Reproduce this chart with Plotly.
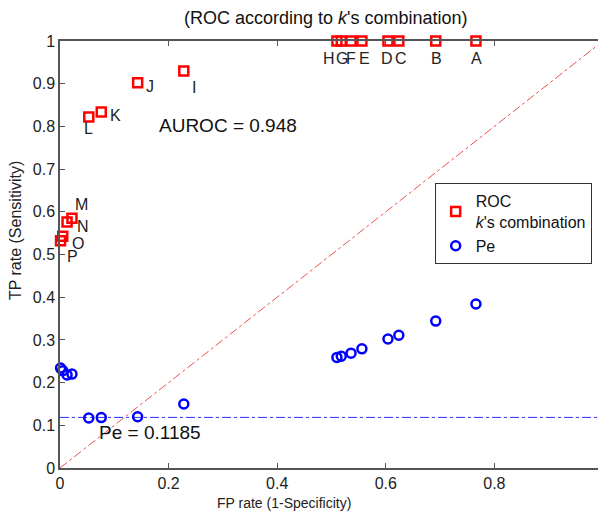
import plotly.graph_objects as go

labels = ["A", "B", "C", "D", "E", "F", "G", "H", "I", "J", "K", "L", "M", "N", "O", "P"]
fp_rate = [0.766, 0.692, 0.624, 0.604, 0.556, 0.536, 0.518, 0.510, 0.228, 0.143, 0.076, 0.053, 0.022, 0.013, 0.005, 0.001]
tp_roc = [1.0, 1.0, 1.0, 1.0, 1.0, 1.0, 1.0, 1.0, 0.930, 0.902, 0.834, 0.822, 0.585, 0.576, 0.543, 0.532]
tp_pe = [0.384, 0.344, 0.311, 0.302, 0.279, 0.269, 0.262, 0.259, 0.150, 0.120, 0.118, 0.117, 0.220, 0.218, 0.228, 0.234]
pe_value = 0.1185
auroc = 0.948
x_tickvals = [0, 0.2, 0.4, 0.6, 0.8, 1]
x_ticktext = ["0", "0.2", "0.4", "0.6", "0.8", "1"]
y_tickvals = [0, 0.1, 0.2, 0.3, 0.4, 0.5, 0.6, 0.7, 0.8, 0.9, 1]
y_ticktext = ["0", "0.1", "0.2", "0.3", "0.4", "0.5", "0.6", "0.7", "0.8", "0.9", "1"]

# label offsets (in pixels) relative to marker
label_offsets = {
    "A": (1, -17), "B": (1, -17), "C": (2, -17), "D": (-1, -17),
    "E": (3, -17), "F": (0, -17), "G": (1, -17), "H": (-8, -17),
    "I": (10, -17), "J": (12, -4), "K": (14, -4), "L": (0, -11),
    "M": (10, 14), "N": (16, -4), "O": (15, -7), "P": (12, -16),
}

FONT = "Liberation Sans, Arial, sans-serif"
fig = go.Figure()

fig.add_trace(go.Scatter(x=[0, 1], y=[0, 1], mode="lines",
                         line=dict(color="rgba(235,60,60,0.9)", width=1, dash="dashdot"),
                         showlegend=False, hoverinfo="skip"))
fig.add_trace(go.Scatter(x=[0, 1], y=[pe_value, pe_value], mode="lines",
                         line=dict(color="#2a2aff", width=1, dash="dashdot"),
                         showlegend=False, hoverinfo="skip"))

fig.add_trace(go.Scatter(x=fp_rate, y=tp_roc, mode="markers",
                         marker=dict(symbol="square-open", size=9, color="#ff0000",
                                     line=dict(width=2.5, color="#ff0000")),
                         name="ROC<br><i>k</i>'s combination", cliponaxis=False))
fig.add_trace(go.Scatter(x=fp_rate, y=tp_pe, mode="markers",
                         marker=dict(symbol="circle-open", size=9, color="#0000ff",
                                     line=dict(width=2.5, color="#0000ff")),
                         name="Pe", cliponaxis=False))

for lab, x, y in zip(labels, fp_rate, tp_roc):
    dx, dy = label_offsets[lab]
    fig.add_annotation(x=x, y=y, text=lab, showarrow=False, xshift=dx, yshift=dy,
                       font=dict(size=16, color="#222", family=FONT))

fig.add_annotation(x=0.178, y=0.803, text=f"AUROC = {auroc}", showarrow=False,
                   xanchor="left", font=dict(size=19, color="#111", family=FONT))
fig.add_annotation(x=0.068, y=0.084, text=f"Pe = {pe_value}", showarrow=False,
                   xanchor="left", font=dict(size=19, color="#111", family=FONT))

# the last x tick label sits on the page edge (plotly hides it), so draw it as text
fig.add_annotation(x=x_tickvals[-1], xref="x", y=0, yref="paper", text=x_ticktext[-1],
                   showarrow=False, xanchor="center", yanchor="top", yshift=-2,
                   font=dict(size=16, color="#222", family=FONT))

# title and axis titles placed as paper annotations (they are off-centre in the reference)
fig.add_annotation(xref="paper", yref="paper", x=0.49, y=1.054, showarrow=False,
                   xanchor="center", yanchor="middle",
                   text="(ROC according to <i>k</i>'s combination)",
                   font=dict(size=18, color="#111", family=FONT))
fig.add_annotation(xref="paper", yref="paper", x=0.4125, y=-0.082, showarrow=False,
                   xanchor="center", yanchor="middle",
                   text="FP rate (1-Specificity)",
                   font=dict(size=14, color="#222", family=FONT))
fig.add_annotation(xref="paper", yref="paper", x=-0.083, y=0.557, showarrow=False,
                   xanchor="center", yanchor="middle",
                   text="TP rate (Sensitivity)", textangle=-90,
                   font=dict(size=16, color="#222", family=FONT))

# page body has an 8px default margin: margins chosen so the plot area lands where the reference has it
fig.update_layout(
    width=606, height=505,
    margin=dict(l=52, r=11, t=33, b=45, autoexpand=False),
    paper_bgcolor="white", plot_bgcolor="white",
    font=dict(family=FONT, size=14, color="#222"),
    legend=dict(x=0.69, y=0.667, xanchor="left", yanchor="top",
                bordercolor="#333", borderwidth=1, bgcolor="white",
                font=dict(size=16, color="#111"), tracegroupgap=2),
    xaxis=dict(range=[0, 1], tickvals=x_tickvals[:-1], ticktext=x_ticktext[:-1],
               showgrid=False, zeroline=False, showline=True, mirror="ticks",
               linecolor="#555", linewidth=1.5, ticks="inside", ticklen=5, tickcolor="#555",
               automargin=False, tickfont=dict(size=16)),
    yaxis=dict(range=[0, 1], tickvals=y_tickvals, ticktext=y_ticktext,
               showgrid=False, zeroline=False, showline=True, mirror="ticks",
               linecolor="#555", linewidth=1.5, ticks="inside", ticklen=5, tickcolor="#555",
               automargin=False, tickfont=dict(size=16)),
)
# tick mark at x = 1 is the frame corner itself; nothing more needed

fig.write_html("out.html")
